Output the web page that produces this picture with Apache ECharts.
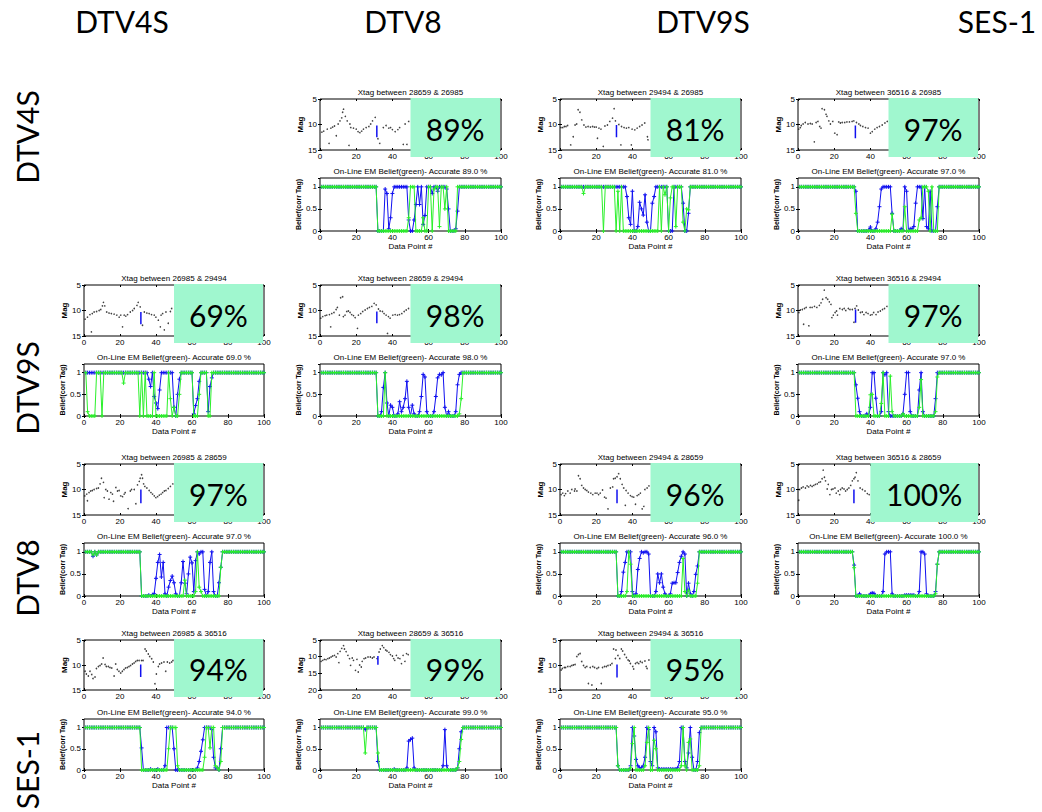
<!DOCTYPE html>
<html><head><meta charset="utf-8">
<script src="https://cdn.jsdelivr.net/npm/echarts@6/dist/echarts.min.js"></script>
<style>html,body{margin:0;padding:0;background:#fff;}#c{width:1042px;height:812px;}</style>
</head><body><div id="c"></div>
<script>
// ---------- headers ----------
const colHeaders = ['DTV4S','DTV8','DTV9S','SES-1'];
const rowHeaders = ['DTV4S','DTV9S','DTV8','SES-1'];
// ---------- cells ----------
const cellRow = [0,0,0,1,1,1,2,2,2,3,3,3];
const cellCol = [1,2,3,0,1,3,0,2,3,0,1,2];
const tagA = [28659,29494,36516,26985,28659,36516,26985,29494,36516,26985,28659,29494];
const tagB = [26985,26985,26985,29494,29494,29494,28659,28659,28659,36516,36516,36516];
const accuracy = [89,81,97,69,98,97,97,96,100,94,99,95];
const magMax = [15,15,15,15,15,15,15,15,15,15,20,15];
const boxFrom = [50,50,50,50,50,50,50,50,40,50,50,50];
// blue flag in magnitude panels: x, from, to
const flagX = [31.4,31.2,31.7,31.6,31.4,31.8,31.6,31.5,30.9,31.5,32,31.5];
const flagFrom = [10.2,10.1,10.2,10.3,10.2,9.8,10.0,10.0,10.0,9.9,9.8,9.9];
const flagTo = [12.5,12.5,12.7,12.7,12.5,12.4,12.7,12.7,12.7,12.4,12.4,12.5];

// ---------- magnitude points [data point, mag] ----------
const mag1 = [[1,11.5],[2,11.3],[4,10.9],[5,13.7],[6,10.7],[7,10.5],[8,10.3],[9,12.2],[10,9.9],[11,9.3],[12,8.7],[12.5,7.6],[13,7],[14,8.4],[15,9.3],[16,14.1],[16.5,9.9],[17,10.6],[18.5,10.7],[20,10.9],[21,11.4],[22,11.6],[23,11.3],[24,10.9],[25.5,10.6],[27,10.4],[28,9.9],[29,9.3],[30.5,8.6],[32,12.8],[33,13.7],[35,10.6],[36.5,10.2],[38,10.7],[39,10.6],[40,11],[41.5,11.4],[43,11],[44,10.6],[46,13.9],[47,9.9],[48,13.9],[49,9.4]];
const mag2 = [[0.5,10.6],[1.5,10.6],[2.4,10.4],[3.3,10.4],[4.2,10.2],[5.9,14],[7.3,12.4],[8.3,10.1],[9.2,9.9],[10,7.1],[11,7.6],[12,9.1],[13.2,10.1],[14.3,10.5],[15.5,10.4],[16.8,10.5],[18,10.4],[19,10.5],[20,10.5],[20.7,12.7],[21.5,10.7],[22.6,10.9],[23.9,14.3],[24.8,10.3],[26.2,10.1],[27.5,9.4],[29,8.75],[29.9,6.9],[30.6,9.3],[32.5,10],[33.6,14],[34,10.4],[35.4,10.6],[36.7,10.7],[38,10.6],[39.4,14],[39.8,10.9],[41.3,11.05],[42.6,10.7],[44,10.4],[45.3,10.1],[46.8,9.7],[48.3,12.4],[48.6,13]];
const mag3 = [[0.4,10.9],[1.3,10.6],[1.8,10.2],[2.8,9.9],[4,9.6],[5.5,9.9],[6.8,9.8],[7.8,9.9],[9,13.4],[10,9.6],[11,9.4],[12,10.4],[12.7,10.7],[13.3,6.9],[14.6,7.1],[15.5,8],[16,8.4],[17,9.3],[17.9,9.9],[19.2,9.4],[20.3,11.7],[21.6,12],[22.5,9.5],[23.4,9.7],[24.4,9.6],[25.8,9.6],[27,9.5],[28.4,9.5],[29.9,9.4],[30.8,9.3],[32.3,9.6],[33.6,9.9],[34.5,10.2],[35.8,10.4],[37.3,10.6],[38.7,10.7],[40,11.7],[41,11.4],[42.4,10.9],[43.7,10.6],[45,10.4],[46.5,10.1],[48,9.7],[49.3,9.4]];
const mag4 = [[0.6,11.7],[1.9,11.3],[3.3,10.8],[4.1,14.2],[4.6,10.6],[5.6,10.3],[7,10.2],[8.4,10],[9.3,9.8],[10.2,9.1],[10.8,8.4],[11.5,9.1],[12.6,10.3],[13.9,10.5],[15.2,10.6],[16.7,10.7],[18.2,10.9],[19.5,11.3],[20.4,10.9],[21.4,13.2],[22.3,10.9],[23.2,11.1],[24.2,10.8],[25.7,10.3],[27,10],[27.9,9.6],[29.4,9],[30.1,8.4],[31.2,9.3],[32.5,12.9],[33.5,10.3],[34.9,10.5],[36.2,10.6],[37.5,10.8],[39,10.9],[39.9,11.3],[41.3,11.9],[42.4,13.2],[42.8,10.9],[43.7,10.6],[44.6,13.8],[45.5,10.3],[46.8,12.5],[48,10.2],[48.7,9.6]];
const mag5 = [[0.4,11.5],[1.5,11.2],[2.8,11],[3.7,10.9],[5.2,10.8],[5.9,13.2],[6.5,10.6],[7.7,10.4],[8.9,9.8],[9.6,9.4],[10.7,10.9],[11.4,7.5],[12.5,7.3],[12.9,11.2],[13.8,10.9],[14.8,10.2],[15.7,10.1],[16.6,10.4],[17.5,10.8],[18.5,11],[19.4,11.4],[20.7,13.5],[21.2,10.9],[22.5,10.6],[23.6,10.2],[24.9,9.9],[26.2,9.6],[27.3,9.4],[28.6,9.2],[29.9,8.6],[31,8.9],[32.3,9.7],[33.2,10.1],[34.5,10.2],[35.4,10.6],[36.5,10.9],[37.3,14.5],[37.8,11.2],[38.7,11.5],[40.2,10.9],[41.5,10.8],[42.8,10.9],[43.9,10.8],[45.2,10.6],[46.5,10.2],[47.6,9.9],[48.9,9.6]];
const mag6 = [[0.5,10.4],[1.3,9.9],[2.4,9.8],[3.1,12.7],[3.6,9.6],[4.5,9.4],[6,13],[6.7,9.4],[7.8,9.4],[9.1,9.2],[10.4,9.4],[11.8,9],[12.7,8.5],[13.6,7.8],[14.5,6],[15.5,7.5],[16.4,7.8],[17.3,8.3],[18.2,8.8],[18.7,11.4],[19.5,10.9],[20.5,10.4],[21.3,10.1],[21.8,10.9],[23.1,9.6],[24.5,9.8],[25.5,9.6],[26.4,10],[27.8,9.6],[28.7,9.8],[30,9.8],[30.9,12.3],[31.5,9.6],[32.4,9.1],[33.3,9.9],[34.5,10.4],[35.5,10.3],[36.4,10.8],[37.6,10.4],[38.7,10.6],[40,10.9],[40.9,10.8],[41.8,10.4],[43.1,10.8],[44.2,10.3],[45.5,10.1],[46.7,9.8],[47.8,9.6],[49.1,9.2]];
const mag7 = [[0.4,11.25],[1.5,10.9],[1.9,12.2],[2.8,10.6],[3.7,10.3],[4.6,10.2],[5.6,10],[7,9.8],[8,9.7],[8.9,8.9],[9.7,7.8],[10.8,8.6],[11.2,11.6],[12.1,10],[13,10.3],[13.9,11.9],[14.9,10.6],[15.8,10.9],[16.4,12.3],[17.7,9.6],[18.6,10.3],[19.5,10.2],[20.4,11.25],[21.4,11.4],[22.3,10.9],[22.9,10.6],[24.5,13.75],[25.7,10.3],[26.4,10],[27.9,10],[28.8,12.8],[29.7,9.1],[30.7,8.4],[31.2,7.8],[32,7.1],[32.5,7.8],[33.1,8.9],[33.8,9.4],[34.9,9.7],[36.2,10.2],[37.2,10.6],[38.1,10.9],[39,11.25],[39.9,11.6],[40.9,11.4],[41.8,11.1],[42.8,10.9],[43.7,10.6],[44.6,10.3],[45.5,10.2],[46.8,9.8],[48,9.4],[49.3,8.9]];
const mag8 = [[0.6,11],[1.5,10.7],[2.4,11.2],[3.1,10.8],[4.3,10.3],[5.6,10.7],[6.5,10],[8,10.3],[8.3,9.9],[9.3,10.3],[10.2,7.3],[11.1,7.9],[12,9.2],[13,9.7],[13.9,10],[14.8,10.2],[15.7,10.5],[17,10.7],[18.1,11],[19.4,10.7],[20.4,10.7],[21.3,11],[22.2,10.7],[23.5,10.1],[24.6,11.5],[25.4,11.7],[26.5,13.8],[27.8,9.7],[29.1,9.5],[29.6,7.9],[30.5,7.8],[31.5,7.5],[32.4,6.9],[33.3,7.9],[34.3,9],[35.2,9.7],[36.1,13.1],[36.5,10.2],[37.6,10.7],[38.9,11.2],[39.8,11.4],[40.7,11.5],[41.7,12.9],[42.6,11.2],[43.5,11],[44.4,10.7],[45.4,13.8],[46.3,13.3],[46.9,10],[48.1,9.7],[49.1,9.3]];
const mag9 = [[0.4,12.1],[0.9,10],[1.9,9.7],[2.8,9.5],[4.1,9.7],[5,9.3],[5.9,9.5],[6.9,9.2],[7.8,9.4],[8.7,9.2],[9.6,9],[10.6,8.9],[11.5,8.6],[12.4,8.5],[13.3,7.9],[13.9,6.2],[14.6,7.6],[15.2,8.3],[16.1,9.9],[16.7,9],[17.6,11],[18.5,10],[19.3,9.9],[20.4,9.7],[21.1,10.7],[22.2,10.3],[23,11],[23.5,10],[24.4,9.7],[25.4,9.9],[26.3,10.3],[27.2,10],[28.1,9.7],[29.1,9.2],[30,8.3],[30.9,7.9],[31.5,7.6],[32.2,6.7],[33.1,8.3],[34.3,9.7],[35.6,10],[37,10.3],[38.3,10.8],[39.3,11]];
const mag10 = [[0.6,11.25],[1.3,11.8],[2.4,12.2],[3.3,11.25],[4.3,11.9],[5,12.7],[6.1,12.4],[6.9,10.7],[8,10.3],[8.9,10.1],[9.8,9.8],[10.6,8.6],[11.7,9.9],[12.4,10.3],[13.5,10.3],[14.4,10.5],[15.4,10.6],[16.7,12.2],[17.6,9.8],[18.5,10.9],[19.4,11.25],[20.4,11.6],[21.3,11.25],[22.2,10.9],[23.1,10.6],[24.1,10.5],[25,10.3],[25.9,10.1],[26.9,9.8],[27.8,9.6],[28.7,9.3],[29.6,9.1],[30.6,9.1],[32,9.1],[32.8,9.1],[33.9,6.8],[34.6,7.2],[35.7,7.8],[36.5,8.3],[37.6,8.75],[38.5,9.4],[39.4,13.75],[40.2,11.8],[41.3,10.3],[42,9.8],[43.1,9.6],[44.4,9.4],[45.4,11.25],[46.3,9.4],[47.6,9.6],[48.7,9.4],[49.4,9.1]];
const mag11 = [[0.6,11.4],[1.5,11.1],[2.4,10.8],[3.3,10.9],[4.3,10.6],[5.2,10.4],[6.1,10.1],[7,9.8],[8,9.6],[8.9,10.1],[9.8,9.1],[10.4,11.8],[11.1,8.4],[12,7.5],[13,6.7],[13.5,7.7],[14.4,8.5],[15.4,9.6],[16.3,10.6],[16.9,12.6],[17.8,10.4],[18.5,11.1],[19.6,14.1],[20.4,10.8],[21.1,14.6],[21.9,12.5],[22.8,13.1],[23.3,11.4],[24.3,10.6],[25.2,10.4],[26.5,10.1],[27.8,10.1],[28.9,10.4],[29.8,10.1],[31.5,10.6],[32.6,8.6],[33.3,7.7],[34.4,6.7],[35.2,7.3],[36.3,8],[37,8.3],[38.1,8.7],[38.9,9.4],[40,9.8],[40.7,10.6],[41.3,11.1],[42.2,9.6],[43.1,10.4],[44.1,10.6],[45,12.1],[45.9,9.6],[46.9,11.4],[47.8,9.1],[48.7,9.4]];
const mag12 = [[0.6,11],[1.3,10.7],[2.4,10.5],[3.1,10.5],[4.3,10.3],[5.6,10.3],[6.5,10.1],[7.4,10],[8.3,9.9],[9.3,8.3],[10.2,7.9],[11.1,7.7],[12,9.3],[13,10.1],[13.9,10.5],[14.8,10.3],[15.7,13.7],[16.7,10.5],[17.6,14],[18.1,10.3],[19.1,10.5],[20.4,10.7],[21.3,10.5],[22.8,13.7],[23.5,10.5],[24.6,10.3],[25.6,10.3],[26.5,10.1],[27.8,10],[28.7,9.7],[29.6,6.8],[30.6,8.7],[30.9,7],[32,8.1],[33,8.7],[33.9,6.8],[34.6,7.2],[35.7,7.9],[36.7,8.5],[37.6,9],[38.3,9.2],[38.9,9.7],[40.2,10.3],[40.7,10.8],[41.7,9.7],[42.6,9.5],[43.5,9.7],[44.4,9.3],[45.4,9.5],[46.9,9.2],[47.6,10.3],[48.1,10.7],[49.1,9]];

// ---------- belief values for data points 1..100, run-length: value or [value, count] ----------
const blue1 = [[1,31],[0,4],0.95,0.85,0.05,0.3,0.85,[1,8],0.25,[0,2],0.25,0.6,1,0.6,1,0.15,0.35,[1,3],0.85,[1,2],0.9,[1,4],0.95,0.5,[0,3],0.05,0.45,[1,24]];
const green1 = [[1,31],[0,17],0.3,[1,3],[0,4],0.3,[0,2],[1,2],0,0.95,[1,2],0.1,[1,2],0.5,1,[0,5],[1,25]];
const blue2 = [[1,36],0.78,0.3,0.15,0.9,[0,2],0.1,0.65,0.5,0.36,0.82,0.2,[0,2],0.63,0.78,[1,7],[0,3],[1,5],0.63,[0,2],0.4,[1,29]];
const green2 = [[1,12],0.85,[1,10],0,[1,6],0,0.9,0,1,[0,20],1,0,1,0.82,1,0,0.75,[1,2],0.1,[1,3],0.2,0,0.5,0.48,[1,29]];
const blue3 = [[1,31],0.9,[0,6],0.02,0.09,[0,2],0.05,0.2,0.55,0.95,[1,5],0.4,[0,4],0.05,0.02,1,0.9,0,[0.05,2],0.1,0.63,[1,3],0.28,1,0.1,0.05,0.9,[0,3],0.55,[1,23]];
const green3 = [[1,31],0.4,[0,19],0.38,[0,6],0.55,[0,7],0.25,0.3,[1,3],0.9,0,1,[0,3],[1,23]];
const blue4 = [[1,35],0.85,0.68,1,0.45,0.3,0.17,0.6,[1,7],0.2,0,0.5,0.85,[1,7],0.05,0.24,0.4,0.8,[1,4],0.1,0.68,0.88,[1,29]];
const green4 = [1,0.1,[0,4],[1,3],0,[1,11],0.76,[1,8],0,1,0,1,[0,4],1,[0,7],1,0.4,0,0.2,[0,2],0.5,[1,7],[0,3],0.5,[1,4],[0,2],[1,30]];
const blue5 = [[1,31],[0,2],0.1,0.66,1,0.3,0,0.25,0.2,[0,2],0.05,0.33,0.1,0.2,0.4,0.8,0.2,0,0.25,0.05,[0,2],0.1,0.45,0.96,0.9,0.1,[0,3],0.1,0.45,0.88,0.96,0.95,1,0.2,0,0.1,[0,3],0.1,0.72,0.96,[1,23]];
const green5 = [[1,31],[0,4],1,[0,40],0.05,0.4,[1,22]];
const blue6 = [[1,31],0.72,0.41,0.1,[0,3],0.05,0,0.2,[1,2],0.41,[0,2],0.1,1,0.95,1,0.1,[0,7],0.05,0.5,[1,2],0.1,[0,4],0.6,1,0.1,[0,6],0.4,[1,24]];
const green6 = [[1,31],[0,8],0.49,0.5,[0,4],0.29,1,[0,3],0.92,0.1,[0,5],0.05,[0,8],0.2,0.84,[0,7],0.1,0.9,[1,23]];
const blue7 = [[1,4],0.9,1,0.93,[1,24],[0,4],0.02,0,0.03,0.05,0.4,0.76,0.94,0.43,0.76,0.05,0,0.2,0.35,0.45,0.3,0.05,[0,2],0.3,0.78,0.29,0.05,0.5,0.88,0.75,0.1,0.8,1,0.95,[1,2],0.15,0,0.1,0.76,1,0.1,[0,2],0.3,0.65,[1,24]];
const green7 = [[1,4],0.93,1,0.93,[1,24],[0,24],0.36,[0,5],0.1,1,0.2,0.1,[0,10],0.65,[1,24]];
const blue8 = [[1,31],[0,2],0.1,0.54,0.76,[1,3],0.1,0,0.05,0.6,0.85,1,0.98,[1,2],0.95,[0,3],0.1,0.5,0.3,0.5,0.2,0.05,[0,2],0.05,0.29,0.3,0.3,0.53,0.76,0.9,1,0.95,0,0.29,0.05,0,0.1,0.49,0.68,[1,24]];
const green8 = [[1,31],[0,5],0.1,1,0.72,[0,28],0.85,0.1,0,0.13,[0,4],0.29,[1,24]];
const blue9 = [[1,30],0.7,[0,2],0.05,[0,5],0.05,0.07,0.06,[0,4],0.1,0.95,[1,3],0.05,[0,6],[0.02,6],[0,2],0.1,[1,2],0.95,0.05,[0,4],0.1,0.72,[1,23]];
const green9 = [[1,30],0.64,[0,44],0.05,0.72,[1,23]];
const blue10 = [[1,31],0.52,[0,4],0.02,[0,3],0.02,[0,3],0.1,[1,4],0.5,[0,12],0.05,0.2,0.44,0.71,[1,4],0.95,0.3,[0.05,2],0,0.5,[1,24]];
const green10 = [[1,31],[0,15],0.5,[1,4],0.1,[0,14],0.3,[1,2],0.52,[1,2],0.1,0.05,0,0.2,[1,24]];
const blue11 = [[1,24],0.95,[1,6],0.2,[0,8],0.02,[0,6],0.05,0.68,0.72,0.75,0.05,[0,15],0.1,0.95,0.1,[0,5],0.05,0.5,0.9,[1,22]];
const green11 = [[1,24],0.4,[1,6],0.4,[0,43],0.05,0.2,0.72,[1,22]];
const blue12 = [[1,31],0.1,[0,6],0.1,1,0.8,0.25,0.1,[0.05,2],0.1,0.3,1,0.95,0.2,0.1,1,0.9,0.05,[0.02,10],0.05,0.2,[1,2],0.2,0.05,0.4,1,0.3,[0,2],0.2,0.88,[1,23]];
const green12 = [[1,31],0.1,[0,6],0.05,0.62,1,[0,5],0.1,0.65,1,[0,2],0.7,0.5,[0,13],0.1,1,0.1,0,0.65,0.73,[0,4],0.1,[1,23]];

const mags = [mag1,mag2,mag3,mag4,mag5,mag6,mag7,mag8,mag9,mag10,mag11,mag12];
const blues = [blue1,blue2,blue3,blue4,blue5,blue6,blue7,blue8,blue9,blue10,blue11,blue12];
const greens = [green1,green2,green3,green4,green5,green6,green7,green8,green9,green10,green11,green12];

function expandRuns(runs){
  const out = [];
  runs.forEach(r => { if (Array.isArray(r)) { for (let i=0;i<r[1];i++) out.push(r[0]); } else out.push(r); });
  return out.map((v,i) => [i+1, v]);
}

// ---------- layout ----------
const colBox = [{l:84,r:264},{l:320,r:501},{l:560,r:741},{l:798,r:979}];
const rowBox = [{t1:99,b1:150,t2:178,b2:231},{t1:285,b1:336,t2:364,b2:416},{t1:464,b1:515,t2:543,b2:596},{t1:640,b1:690,t2:719,b2:770}];
const colHeadX = [122,403,703,997];
const rowHeadY = [137,388,578,770];

const BLUE = '#1010f0', GREEN = '#2af02a';
const PLUS = 'path://M5,0L5,10M0,5L10,5';
const small = 'Liberation Sans';

const grid = [], xAxis = [], yAxis = [], series = [], graphic = [];
function mkAxes(gi, isX, base){
  const common = Object.assign({type:'value', gridIndex:gi, axisLine:{show:false}, splitLine:{show:false},
    axisTick:{inside:true, length:2, lineStyle:{color:'#000', width:1}},
    axisLabel:{fontSize:8, color:'#000', fontFamily:small, margin:isX?2:3}}, base);
  const mirror = Object.assign({}, common, {position: isX ? 'top' : 'right', name:'', axisLabel:{show:false}});
  return [common, mirror];
}

for (let k=0;k<12;k++){
  const c = colBox[cellCol[k]], r = rowBox[cellRow[k]];
  const gTop = grid.length;
  grid.push({left:c.l, top:r.t1, width:c.r-c.l, height:r.b1-r.t1, show:true, borderColor:'#000', borderWidth:1, backgroundColor:'transparent'});
  const gBot = grid.length;
  grid.push({left:c.l, top:r.t2, width:c.r-c.l, height:r.b2-r.t2, show:true, borderColor:'#000', borderWidth:1, backgroundColor:'transparent'});

  const xTopIdx = xAxis.length;
  xAxis.push(...mkAxes(gTop, true, {min:0, max:100, interval:20, position:'bottom'}));
  const xBotIdx = xAxis.length;
  xAxis.push(...mkAxes(gBot, true, {min:0, max:100, interval:20, position:'bottom', name:'Data Point #', nameLocation:'middle', nameGap:11, nameTextStyle:{fontSize:8, color:'#000', fontFamily:small}}));
  const yTopIdx = yAxis.length;
  yAxis.push(...mkAxes(gTop, false, {min:5, max:magMax[k], interval:5, inverse:true, position:'left', name:'Mag', nameLocation:'middle', nameGap:15, nameRotate:90, nameTextStyle:{fontSize:8, fontWeight:'bold', color:'#000', fontFamily:small}}));
  const yBotIdx = yAxis.length;
  yAxis.push(...mkAxes(gBot, false, {min:0, max:1.2, interval:0.5, position:'left', name:'Belief(corr Tag)', nameLocation:'middle', nameGap:17, nameRotate:90, nameTextStyle:{fontSize:7, fontWeight:'bold', color:'#000', fontFamily:small}}));
  yAxis[yBotIdx].axisLabel = Object.assign({}, yAxis[yBotIdx].axisLabel, {showMaxLabel:false});

  series.push({type:'scatter', xAxisIndex:xTopIdx, yAxisIndex:yTopIdx, data:mags[k], symbol:'circle', symbolSize:1.6, itemStyle:{color:'#111'}, silent:true, z:2});
  series.push({type:'line', xAxisIndex:xTopIdx, yAxisIndex:yTopIdx, data:[[flagX[k],flagFrom[k]],[flagX[k],flagTo[k]]], symbol:'none', lineStyle:{color:BLUE, width:1.5}, silent:true, z:3});
  series.push({type:'line', xAxisIndex:xBotIdx, yAxisIndex:yBotIdx, data:expandRuns(blues[k]), symbol:PLUS, symbolSize:4,
    itemStyle:{color:BLUE, borderColor:BLUE, borderWidth:1}, lineStyle:{color:BLUE, width:1}, silent:true, z:2});
  series.push({type:'line', xAxisIndex:xBotIdx, yAxisIndex:yBotIdx, data:expandRuns(greens[k]), symbol:PLUS, symbolSize:4,
    itemStyle:{color:GREEN, borderColor:GREEN, borderWidth:1}, lineStyle:{color:GREEN, width:1}, silent:true, z:3});

  graphic.push({type:'text', z:50, style:{text:'Xtag between ' + tagA[k] + ' & ' + tagB[k], x:(c.l+c.r)/2, y:r.t1-7, textAlign:'center', textVerticalAlign:'middle', font:'8px "Liberation Sans"', fill:'#000'}});
  graphic.push({type:'text', z:50, style:{text:'On-Line EM Belief(green)- Accurate ' + accuracy[k].toFixed(1) + ' %', x:(c.l+c.r)/2, y:r.t2-7, textAlign:'center', textVerticalAlign:'middle', font:'8px "Liberation Sans"', fill:'#000'}});
}

colHeaders.forEach((t,i) => graphic.push({type:'text', z:50, style:{text:t, x:colHeadX[i], y:21, textAlign:'center', textVerticalAlign:'middle', font:'30px Lato', fill:'#000'}}));
rowHeaders.forEach((t,i) => graphic.push({type:'text', z:50, x:27, y:rowHeadY[i], rotation:Math.PI/2, style:{text:t, x:0, y:0, textAlign:'center', textVerticalAlign:'middle', font:'30px Lato', fill:'#000'}}));

const chart = echarts.init(document.getElementById('c'), null, {renderer:'svg'});
chart.setOption({animation:false, backgroundColor:'#fff', grid, xAxis, yAxis, series, graphic});

// percentage boxes placed through the grid scales
const boxes = [];
for (let k=0;k<12;k++){
  const p0 = chart.convertToPixel({gridIndex:2*k}, [boxFrom[k], 5]);
  const p1 = chart.convertToPixel({gridIndex:2*k}, [100, magMax[k]]);
  const x = p0[0], y = p0[1]-1, w = p1[0]-p0[0]-1, h = p1[1]-p0[1]+8;
  boxes.push({type:'rect', z:100, shape:{x, y, width:w, height:h}, style:{fill:'#a0f7cf'}});
  boxes.push({type:'text', z:101, style:{text:accuracy[k] + '%', x:x+w/2, y:y+h/2+1, textAlign:'center', textVerticalAlign:'middle', font:'30px Lato', fill:'#000'}});
}
chart.setOption({graphic: graphic.concat(boxes)});
</script></body></html>
